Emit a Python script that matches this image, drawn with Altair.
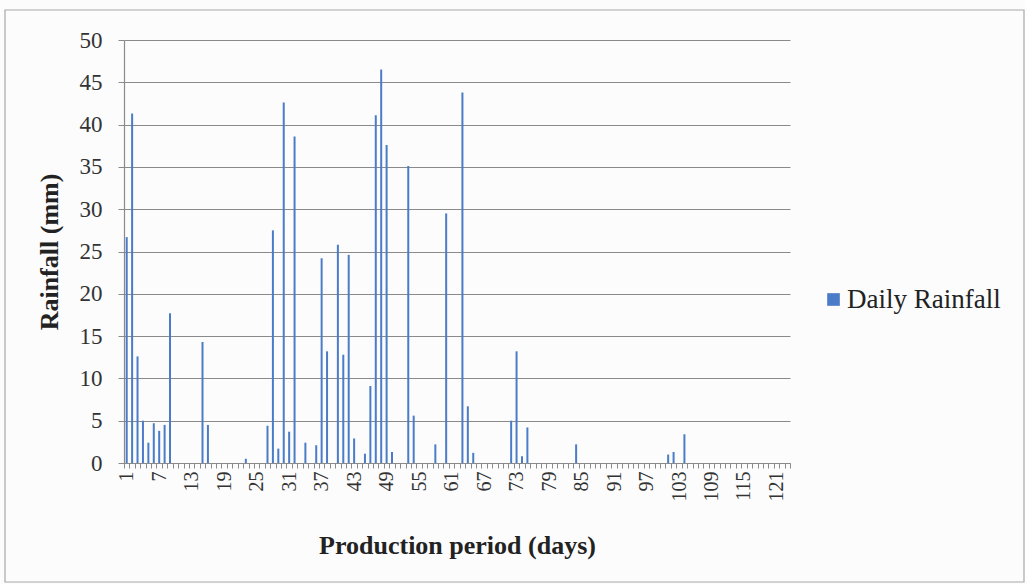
import altair as alt
import pandas as pd

# ---- data ----
n_days = 123
rain_days = [1, 2, 3, 4, 5, 6, 7, 8, 9, 15, 16, 23, 27, 28, 29, 30, 31, 32, 34, 36,
             37, 38, 40, 41, 42, 43, 45, 46, 47, 48, 49, 50, 53, 54, 58, 60, 63, 64,
             65, 72, 73, 74, 75, 84, 101, 102, 104]
rain_mm = [26.7, 41.3, 12.6, 5.0, 2.4, 4.7, 3.8, 4.5, 17.7, 14.3, 4.5, 0.5, 4.4, 27.5,
           1.7, 42.6, 3.7, 38.6, 2.4, 2.1, 24.2, 13.2, 25.8, 12.8, 24.6, 2.9, 1.1, 9.1,
           41.1, 46.5, 37.6, 1.3, 35.1, 5.6, 2.2, 29.5, 43.8, 6.7, 1.2, 5.0, 13.2, 0.8,
           4.2, 2.2, 1.0, 1.3, 3.4]
y_ticks = [0, 5, 10, 15, 20, 25, 30, 35, 40, 45, 50]
series_name = "Daily Rainfall"

days = list(range(1, n_days + 1))
lookup = dict(zip(rain_days, rain_mm))
df = pd.DataFrame({
    "day": days,
    "rain": [lookup.get(d, 0.0) for d in days],
    "series": [series_name] * n_days,
})

W, H = 666, 423
PL, PT = 124, 40
PR, PB = 1025 - PL - W, 584 - PT - H

serif = "Liberation Serif"
grey = "#8a8a8a"

frame = alt.Chart(pd.DataFrame({"k": [0]})).mark_rect(
    fill=None, stroke="#a8a8a8", strokeWidth=1.2
).encode(
    x=alt.value(-PL + 5), x2=alt.value(W + PR - 1),
    y=alt.value(-PT + 10), y2=alt.value(H + PB - 2),
)

bars = alt.Chart(df).mark_bar(size=2).encode(
    x=alt.X(
        "day:O",
        sort="ascending",
        title="Production period (days)",
        scale=alt.Scale(paddingInner=0, paddingOuter=0),
        axis=alt.Axis(
            labelExpr="(datum.value - 1) % 6 == 0 ? datum.label : ''",
            labelAngle=-90,
            tickBand="extent",
            tickSize=5,
            labelFont=serif, labelFontSize=20, labelColor="#333333",
            labelPadding=3,
            titleFont=serif, titleFontSize=26, titleFontWeight="bold",
            titleColor="#222222", titlePadding=31,
            grid=False,
        ),
    ),
    y=alt.Y(
        "rain:Q",
        title="Rainfall (mm)",
        scale=alt.Scale(domain=[0, 50], nice=False),
        axis=alt.Axis(
            values=y_ticks,
            tickSize=6,
            labelFont=serif, labelFontSize=23, labelColor="#333333",
            labelPadding=16,
            titleFont=serif, titleFontSize=26, titleFontWeight="bold",
            titleColor="#222222", titlePadding=17,
            grid=True, gridColor=grey, gridWidth=1.2,
        ),
    ),
    color=alt.Color(
        "series:N",
        scale=alt.Scale(range=["#4A7CC8"]),
        legend=alt.Legend(
            title=None, orient="none", legendX=696, legendY=246,
            symbolType="square", symbolSize=160, symbolStrokeWidth=0,
            labelFont=serif, labelFontSize=27, labelColor="#222222",
            labelOffset=0,
        ),
    ),
)

chart = alt.layer(frame, bars).properties(
    width=W, height=H,
    autosize="none",
    padding={"left": PL, "top": PT, "right": PR, "bottom": PB},
    background="#fcfcfd",
).configure_view(stroke=None).configure_axis(
    domainColor=grey, tickColor=grey, domainWidth=1.2
)

chart.save("out.html", embed_options={"renderer": "svg", "actions": False})
